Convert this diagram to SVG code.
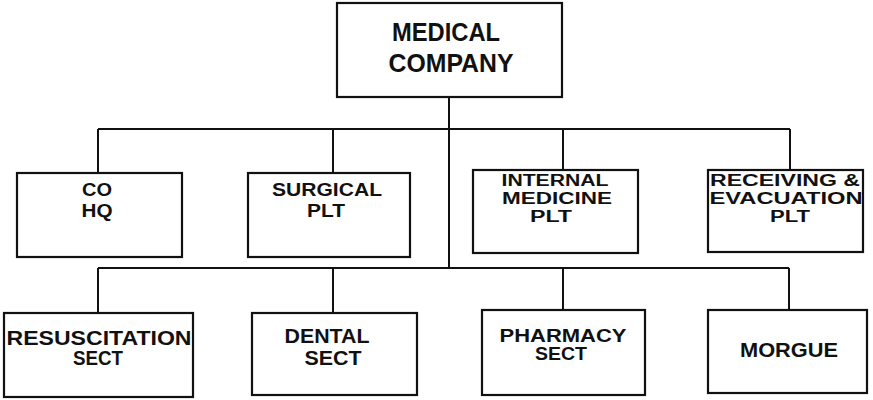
<svg xmlns="http://www.w3.org/2000/svg" width="873" height="400" viewBox="0 0 873 400">
<style>
.box{fill:#fff;stroke:#111;stroke-width:2.2}
.ln{fill:none;stroke:#111;stroke-width:2}
text{font-family:"Liberation Sans",Arial,sans-serif;font-weight:bold;fill:#111;text-anchor:middle}
.t0{font-size:26px}
.t1{font-size:18px}
.t3{font-size:16px}
.t2{font-size:20px}
.t4{font-size:18px}
</style>
<rect width="873" height="400" fill="#fff"/>
<g id="connectors">
<path class="ln" d="M449,97 V268"/>
<path class="ln" d="M98,129 H790"/>
<path class="ln" d="M98,129 V173 M333,129 V173 M563,129 V170 M790,129 V170"/>
<path class="ln" d="M98,268 H789"/>
<path class="ln" d="M98,268 V313 M333,268 V313 M563,268 V310 M789,268 V310"/>
</g>
<g id="medical-company">
<rect class="box" x="337" y="3" width="225" height="94"/>
<text class="t0" x="446" y="41" textLength="108" lengthAdjust="spacingAndGlyphs">MEDICAL</text>
<text class="t0" x="451" y="72" textLength="125" lengthAdjust="spacingAndGlyphs">COMPANY</text>
</g>
<g id="co-hq">
<rect class="box" x="17" y="173" width="165" height="84"/>
<text class="t1" x="97" y="196" textLength="30" lengthAdjust="spacingAndGlyphs">CO</text>
<text class="t1" x="97" y="217" textLength="31" lengthAdjust="spacingAndGlyphs">HQ</text>
</g>
<g id="surgical-plt">
<rect class="box" x="248" y="173" width="162" height="84"/>
<text class="t1" x="327" y="196" textLength="110" lengthAdjust="spacingAndGlyphs">SURGICAL</text>
<text class="t1" x="326" y="217" textLength="38" lengthAdjust="spacingAndGlyphs">PLT</text>
</g>
<g id="internal-medicine-plt">
<rect class="box" x="473" y="170" width="165" height="83"/>
<text class="t3" x="555" y="186" textLength="107" lengthAdjust="spacingAndGlyphs">INTERNAL</text>
<text class="t3" x="557" y="204" textLength="110" lengthAdjust="spacingAndGlyphs">MEDICINE</text>
<text class="t3" x="551" y="222" textLength="42" lengthAdjust="spacingAndGlyphs">PLT</text>
</g>
<g id="receiving-evacuation-plt">
<rect class="box" x="708" y="170" width="155" height="82"/>
<text class="t3" x="785" y="186" textLength="150" lengthAdjust="spacingAndGlyphs">RECEIVING &amp;</text>
<text class="t3" x="786" y="204" textLength="153" lengthAdjust="spacingAndGlyphs">EVACUATION</text>
<text class="t3" x="790" y="222" textLength="40" lengthAdjust="spacingAndGlyphs">PLT</text>
</g>
<g id="resuscitation-sect">
<rect class="box" x="4" y="313" width="189" height="84"/>
<text class="t2" x="99" y="345" textLength="185" lengthAdjust="spacingAndGlyphs">RESUSCITATION</text>
<text class="t2" x="98" y="365" textLength="50" lengthAdjust="spacingAndGlyphs">SECT</text>
</g>
<g id="dental-sect">
<rect class="box" x="252" y="313" width="165" height="82"/>
<text class="t2" x="327" y="343" textLength="85" lengthAdjust="spacingAndGlyphs">DENTAL</text>
<text class="t2" x="333" y="365" textLength="57" lengthAdjust="spacingAndGlyphs">SECT</text>
</g>
<g id="pharmacy-sect">
<rect class="box" x="482" y="310" width="163" height="85"/>
<text class="t4" x="563" y="341.5" textLength="127" lengthAdjust="spacingAndGlyphs">PHARMACY</text>
<text class="t4" x="561" y="360" textLength="52" lengthAdjust="spacingAndGlyphs">SECT</text>
</g>
<g id="morgue">
<rect class="box" x="708" y="310" width="159" height="83"/>
<text class="t2" x="789" y="357" textLength="98" lengthAdjust="spacingAndGlyphs">MORGUE</text>
</g>
</svg>
